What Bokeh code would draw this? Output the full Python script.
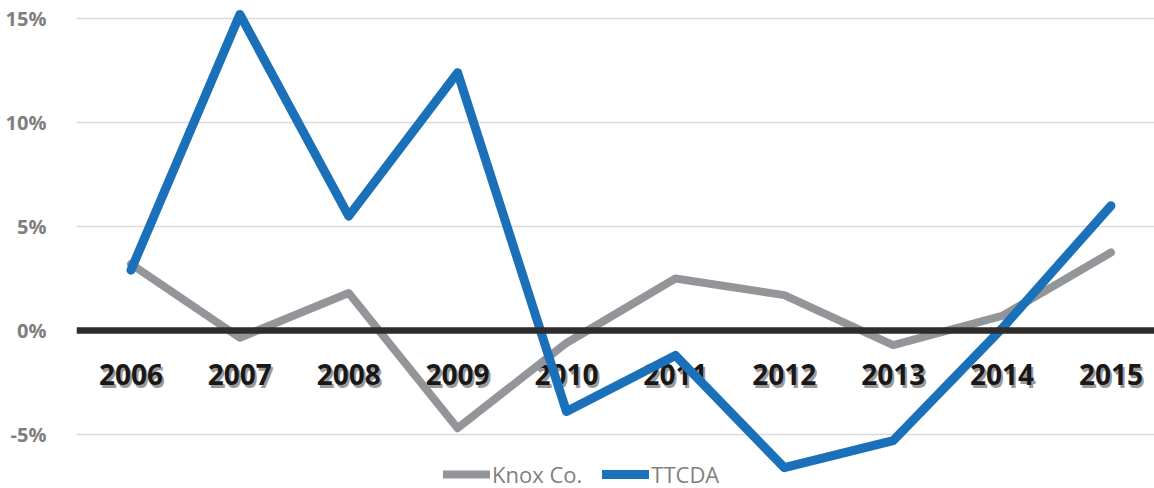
from bokeh.plotting import figure
from bokeh.models import (Range1d, FixedTicker, PrintfTickFormatter, Span,
                          ColumnDataSource, Legend, LegendItem)
from bokeh.core.properties import value
from bokeh.embed import file_html
from bokeh.resources import INLINE

years = ["2006", "2007", "2008", "2009", "2010", "2011", "2012", "2013", "2014", "2015"]
knox = [3.2, -0.35, 1.8, -4.7, -0.6, 2.5, 1.7, -0.7, 0.7, 3.75]
ttcda = [2.9, 15.2, 5.5, 12.4, -3.9, -1.2, -6.6, -5.3, 0.1, 6.0]
y_ticks = [-5, 0, 5, 10, 15]
label_y = -2.1

xs = list(range(len(years)))

p = figure(width=1154, height=488, output_backend="svg", toolbar_location=None,
           x_range=Range1d(-0.5, 9.40), y_range=Range1d(-7.6, 15.87),
           min_border_left=76, min_border_right=0, min_border_top=0, min_border_bottom=0)
p.outline_line_color = None
p.xaxis.visible = False
p.xgrid.visible = False

ax = p.yaxis[0]
ax.ticker = FixedTicker(ticks=y_ticks)
ax.formatter = PrintfTickFormatter(format="%d%%")
ax.axis_line_color = None
ax.major_tick_line_color = None
ax.minor_tick_line_color = None
ax.major_label_standoff = 24
ax.major_label_text_font = "Open Sans"
ax.major_label_text_font_style = "bold"
ax.major_label_text_font_size = "20px"
ax.major_label_text_color = "#7f7f7f"

p.ygrid.ticker = FixedTicker(ticks=y_ticks)
p.ygrid.grid_line_color = "#d9d9d9"
p.ygrid.grid_line_width = 1.5

p.add_layout(Span(location=0, dimension="width", line_color="#2e2c2d", line_width=6.5))

# year labels with shadow
src = ColumnDataSource(dict(x=xs, y=[label_y] * len(xs), t=years))
p.text(x="x", y="y", text="t", source=src, x_offset=2, y_offset=3,
       text_font=value("Open Sans"), text_font_style="bold", text_font_size="28px",
       text_color="#6d6d6d", text_alpha=0.7, text_align="center", text_baseline="middle")
p.text(x="x", y="y", text="t", source=src,
       text_font=value("Open Sans"), text_font_style="bold", text_font_size="28px",
       text_color="#1a1718", text_align="center", text_baseline="middle")

r1 = p.line(xs, knox, line_color="#939598", line_width=8, line_cap="round", line_join="round")
r2 = p.line(xs, ttcda, line_color="#1b70ba", line_width=9, line_cap="round", line_join="round")

legend = Legend(items=[LegendItem(label="Knox Co.", renderers=[r1]),
                       LegendItem(label="TTCDA", renderers=[r2])],
                orientation="horizontal", location=(367, -1),
                glyph_width=47, glyph_height=24, label_standoff=2, spacing=20,
                padding=0, margin=0, border_line_color=None, background_fill_alpha=0,
                label_text_font="Open Sans", label_text_font_size="22px",
                label_text_color="#7f7f7f")
p.add_layout(legend)

open("out.html", "w").write(file_html(p, INLINE))
